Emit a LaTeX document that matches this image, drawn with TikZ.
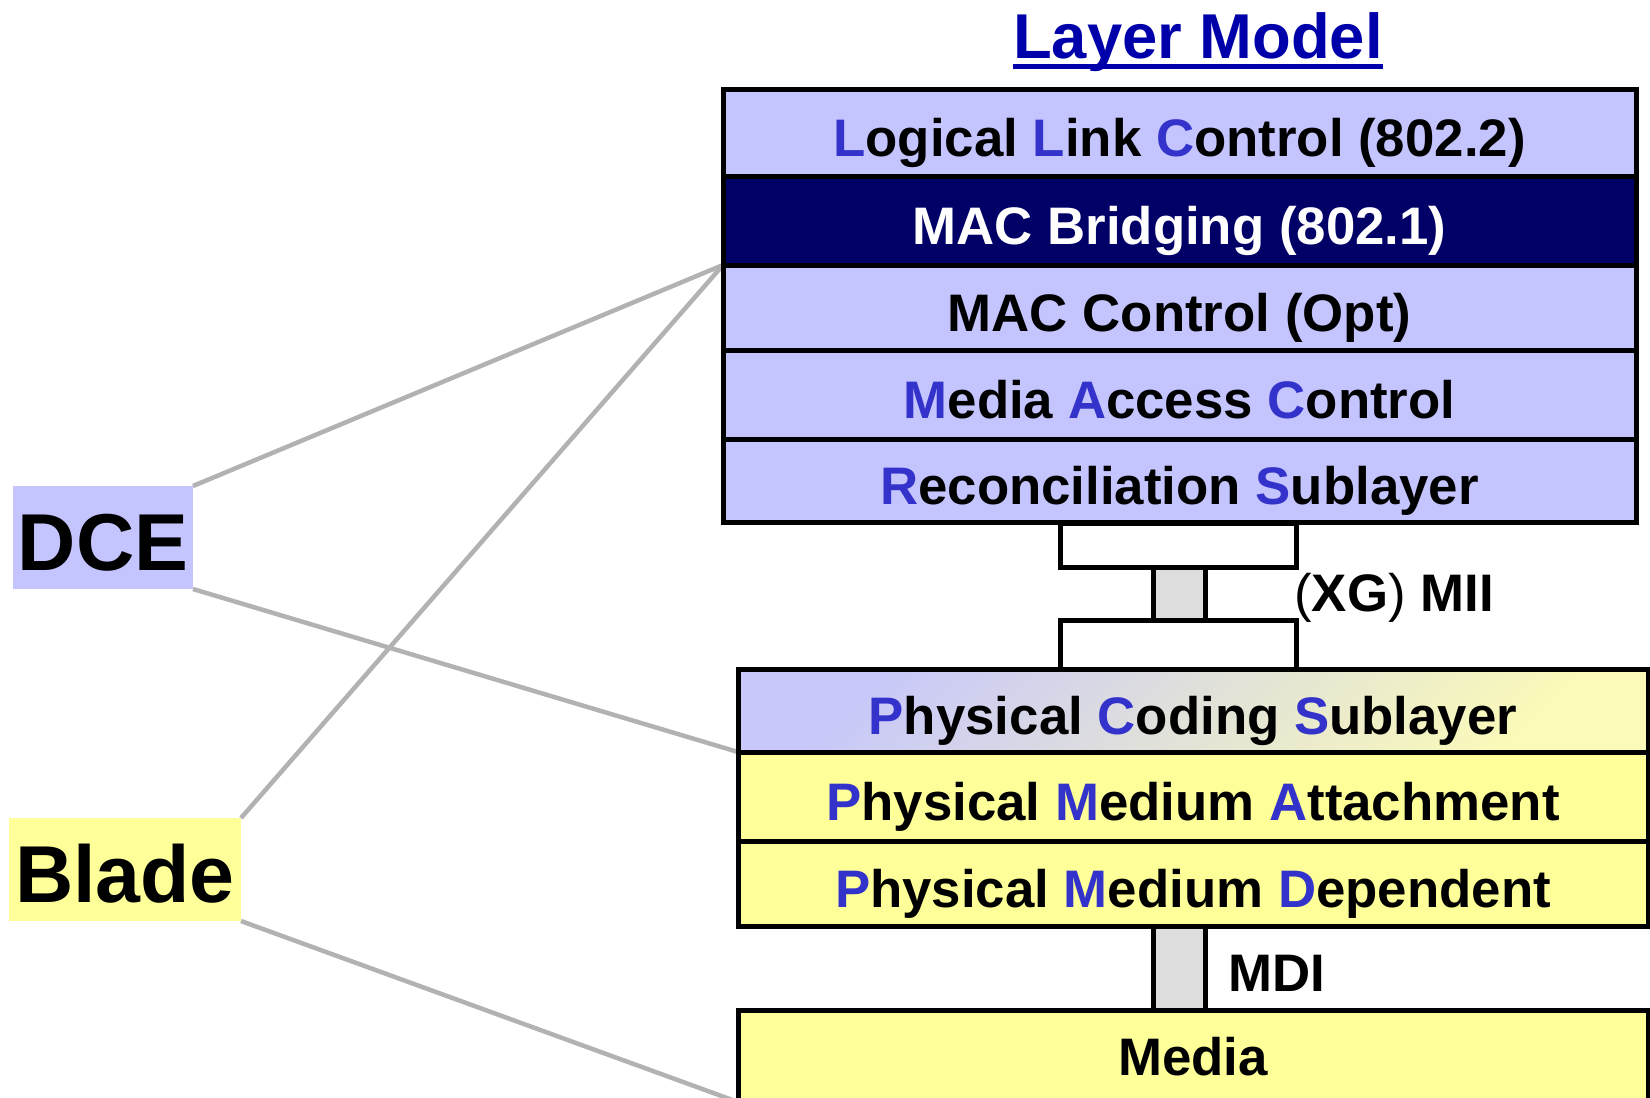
\documentclass[tikz,border=0pt]{standalone}
\usepackage{fontspec}
\setmainfont{Liberation Sans}
\usetikzlibrary{positioning,backgrounds}

\definecolor{lilac}{RGB}{196,196,255}
\definecolor{navy}{RGB}{0,0,102}
\definecolor{paleyellow}{RGB}{255,255,153}
\definecolor{initblue}{RGB}{51,51,204}
\definecolor{titleblue}{RGB}{0,0,170}
\definecolor{linkgrey}{RGB}{178,178,178}
\definecolor{bargrey}{RGB}{221,221,221}
\definecolor{pcstop}{RGB}{200,200,250}
\definecolor{pcsmid}{RGB}{228,228,218}
\definecolor{pcsbot}{RGB}{250,250,185}

% coloured initial letter of a layer name
\newcommand{\ini}[1]{\textcolor{initblue}{#1}}
\newcommand{\layerfont}{\fontsize{53}{60}\selectfont\bfseries}

\begin{document}
\begin{tikzpicture}[x=1bp,y=-1bp,
    layer/.style={draw, line width=5bp, inner sep=0pt, outer sep=0pt, minimum width=913bp,
        text height=47bp, text depth=0pt, font=\layerfont},
    phy/.style={layer, minimum width=910bp, fill=paleyellow},
    tagbox/.style={inner sep=0pt, outer sep=0pt, minimum height=103bp, text height=65bp,
        text depth=0pt, font=\fontsize{81}{90}\selectfont\bfseries},
    greyline/.style={linkgrey, line width=4.5bp},
    barbox/.style={draw, line width=5bp, fill=bargrey}]
    \useasboundingbox (0,0) rectangle (1650,1097);

    % title
    \node[text=titleblue, font=\fontsize{63.6}{70}\selectfont\bfseries,
        inner sep=0pt, anchor=base] (title) at (1198,58) {Layer Model};
    \draw[titleblue, line width=5bp] ([yshift=-8bp]title.base west) -- ([yshift=-8bp]title.base east);

    % upper stack
    \node[layer, fill=lilac, minimum height=87bp] (llc) at (1179.5,132.5)
        {\ini{L}ogical \ini{L}ink \ini{C}ontrol (802.2)};
    \node[layer, fill=navy, text=white, minimum height=89bp, below=0pt of llc] (bridge)
        {MAC Bridging (802.1)};
    \node[layer, fill=lilac, minimum height=85bp, below=0pt of bridge] (macctl)
        {MAC Control (Opt)};
    \node[layer, fill=lilac, minimum height=89bp, below=0pt of macctl] (mac)
        {\ini{M}edia \ini{A}ccess \ini{C}ontrol};
    \node[layer, fill=lilac, minimum height=83.5bp, below=0pt of mac] (rs)
        {\ini{R}econciliation \ini{S}ublayer};

    % (XG) MII
    \draw[line width=5bp] (1060,523) rectangle (1296,567);
    \draw[barbox] (1153,567) rectangle (1205,620);
    \draw[line width=5bp] (1060,620) rectangle (1296,669);
    \node[font=\layerfont, inner sep=0pt, anchor=base west] (mii) at (1294,611)
        {{\mdseries(}XG{\mdseries)} MII};

    % lower stack
    \node[phy, top color=pcstop, middle color=pcsmid, bottom color=pcsbot,
        shading angle=45, minimum height=83bp] (pcs) at (1193,710.5)
        {\ini{P}hysical \ini{C}oding \ini{S}ublayer};
    \node[phy, minimum height=89bp, below=0pt of pcs] (pma)
        {\ini{P}hysical \ini{M}edium \ini{A}ttachment};
    \node[phy, minimum height=85bp, below=0pt of pma] (pmd)
        {\ini{P}hysical \ini{M}edium \ini{D}ependent};

    % MDI
    \draw[barbox] (1153,926) rectangle (1205,1010);
    \node[font=\layerfont, inner sep=0pt, anchor=base west] (mdi) at (1228,991) {MDI};
    \node[phy, minimum height=92bp, text height=39bp, anchor=north] (media) at (1193,1010) {Media};

    % DCE and Blade
    \node[tagbox, fill=lilac, minimum width=180bp] (dce) at (103,537.5) {DCE};
    \node[tagbox, fill=paleyellow, minimum width=232bp] (blade) at (125,869.5) {Blade};

    \begin{scope}[on background layer]
        \draw[greyline] (dce.north east) -- (bridge.south west);
        \draw[greyline] (dce.south east) -- (pcs.south west);
        \draw[greyline] (blade.north east) -- (bridge.south west);
        \draw[greyline] (blade.south east) -- (media.south west);
    \end{scope}
\end{tikzpicture}
\end{document}
